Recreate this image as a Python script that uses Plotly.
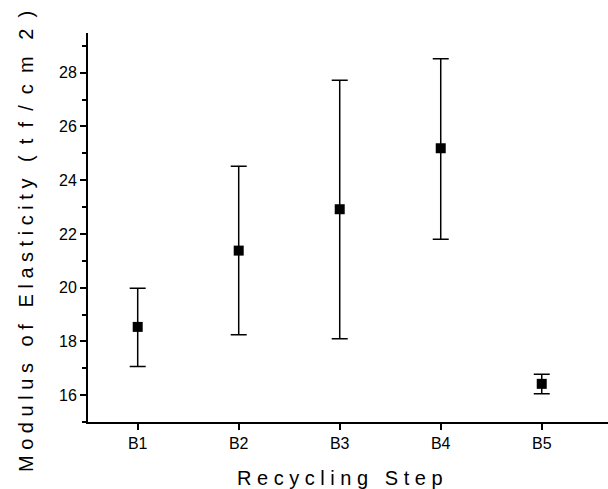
import plotly.graph_objects as go

categories = ["B1", "B2", "B3", "B4", "B5"]
means = [18.54, 21.38, 22.92, 25.19, 16.42]
upper = [19.98, 24.52, 27.72, 28.52, 16.78]
lower = [17.07, 18.25, 18.10, 21.80, 16.05]

err_plus = [u - m for u, m in zip(upper, means)]
err_minus = [m - l for m, l in zip(means, lower)]

NB = "\u00a0"
def spaced(words, gap=3, inner=1):
    return (NB * gap).join((NB * inner).join(list(w)) for w in words)

x_title = spaced(["Recycling", "Step"])
y_title = (spaced(["Modulus", "of", "Elasticity"]) + NB * 3
           + spaced(["(tf/cm", "2)"], gap=3, inner=2))

fig = go.Figure()
fig.add_trace(go.Scatter(
    x=categories, y=means, mode="markers",
    marker=dict(symbol="square", size=10, color="black"),
    error_y=dict(type="data", symmetric=False, array=err_plus, arrayminus=err_minus,
                 color="black", thickness=1.5, width=8),
    showlegend=False,
))

font = "Liberation Sans, Arial, sans-serif"
fig.update_layout(
    width=608, height=489,
    margin=dict(l=88, r=0, t=33, b=67),
    paper_bgcolor="white", plot_bgcolor="white",
    font=dict(family=font, color="black", size=16),
    xaxis=dict(
        type="category", range=[-0.492, 4.656],
        showline=True, linecolor="black", linewidth=2,
        ticks="outside", ticklen=6, tickwidth=1.5, tickcolor="black",
        showgrid=False, zeroline=False,
    ),
    yaxis=dict(
        range=[15, 29.48],
        tickvals=[16, 18, 20, 22, 24, 26, 28],
        showline=True, linecolor="black", linewidth=2,
        ticks="outside", ticklen=6, tickwidth=1.5, tickcolor="black",
        minor=dict(ticks="outside", ticklen=4, tickwidth=1.5, tickcolor="black", dtick=1, tick0=15, showgrid=False),
        showgrid=False, zeroline=False,
    ),
    annotations=[
        dict(text=x_title, xref="paper", yref="paper", x=0.4846, y=-0.144,
             xanchor="center", yanchor="middle", showarrow=False, font=dict(size=20)),
        dict(text=y_title, xref="paper", yref="paper", x=-0.1192, y=0.4627,
             xanchor="center", yanchor="middle", textangle=-90, showarrow=False, font=dict(size=20)),
    ],
)

fig.write_html("out.html")
